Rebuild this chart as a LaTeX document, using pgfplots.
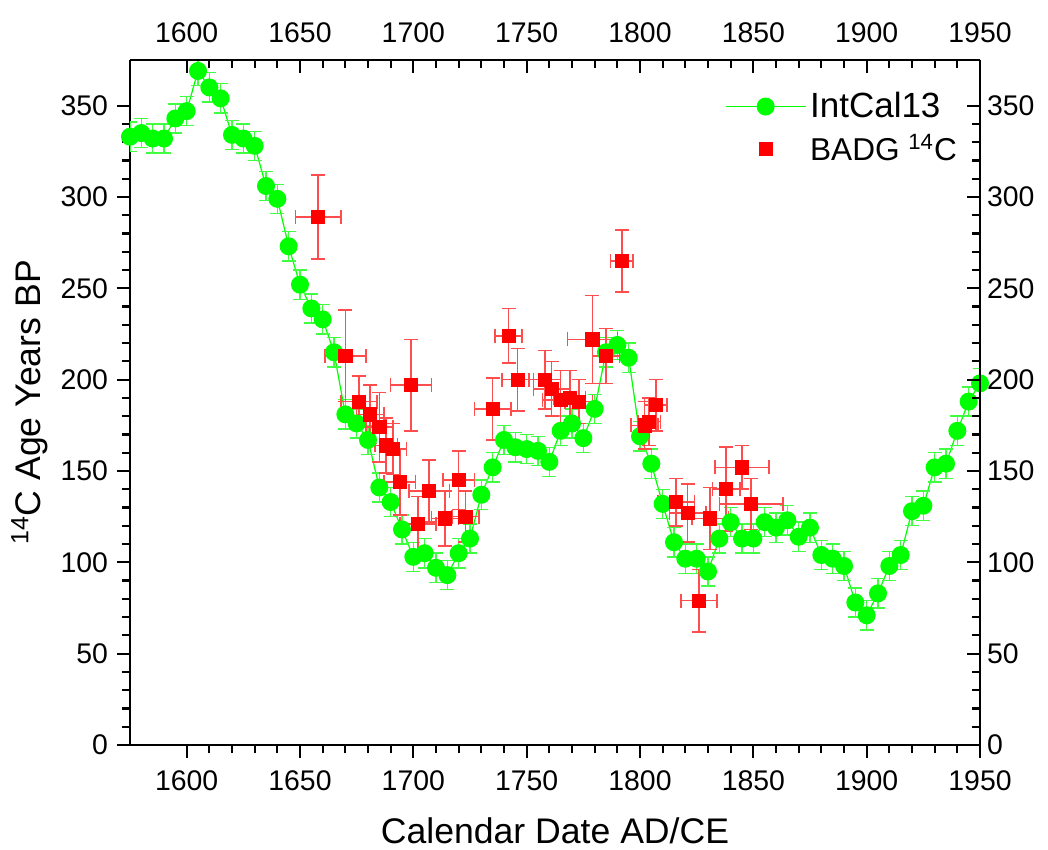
\documentclass[border=0pt]{standalone}
\usepackage{fontspec}
\setmainfont{Liberation Sans}
\usepackage{pgfplots}
\usepackage{pgfplotstable}
\pgfplotsset{compat=1.18}
\definecolor{igreen}{rgb}{0,1,0}
\definecolor{ired}{rgb}{1,0,0}
\definecolor{iredbar}{rgb}{1,0.3,0.3}
\definecolor{igreenbar}{rgb}{0.25,1,0.25}

\pgfplotstableread{
x y ey
1575 333 8
1580 335 8
1585 332 8
1590 332 8
1595 343 8
1600 347 8
1605 369 8
1610 360 8
1615 354 8
1620 334 8
1625 332 8
1630 328 8
1635 306 8
1640 299 8
1645 273 8
1650 252 8
1655 239 8
1660 233 8
1665 215 8
1670 181 8
1675 176 8
1680 167 8
1685 141 8
1690 133 8
1695 118 8
1700 103 8
1705 105 8
1710 97 8
1715 93 8
1720 105 8
1725 113 8
1730 137 8
1735 152 8
1740 167 8
1745 163 8
1750 162 8
1755 161 8
1760 155 8
1765 172 8
1770 176 8
1775 168 8
1780 184 8
1785 215 8
1790 219 8
1795 212 8
1800 169 8
1805 154 8
1810 132 8
1815 111 8
1820 102 8
1825 102 8
1830 95 8
1835 113 8
1840 122 8
1845 113 8
1850 113 8
1855 122 8
1860 119 8
1865 123 8
1870 114 8
1875 119 8
1880 104 8
1885 102 8
1890 98 8
1895 78 8
1900 71 8
1905 83 8
1910 98 8
1915 104 8
1920 128 8
1925 131 8
1930 152 8
1935 154 8
1940 172 8
1945 188 8
1950 198 8
}\intcal

\pgfplotstableread{
x y ex ey
1658 289 10 23
1670 213 9 25
1676 188 8 14
1681 181 6 16
1685 174 6 19
1688 164 5 15
1691 162 6 14
1694 144 7 18
1699 197 9 25
1702 121 8 15
1707 139 9 17
1714 124 6 15
1720 145 7 16
1723 125 6 14
1735 184 8 17
1742 224 6 15
1746 200 7 17
1758 200 7 16
1761 195 8 15
1765 189 8 16
1769 190 7 15
1773 188 6 12
1779 222 11 24
1785 213 6 15
1792 265 5 17
1802 175 6 13
1804 177 5 13
1807 186 5 14
1816 133 8 13
1821 127 8 16
1826 79 8 17
1831 124 8 17
1838 140 6 23
1845 152 12 12
1849 132 14 14
}\badg

\pgfplotsset{
  commonax/.style={
    scale only axis, width=425pt, height=342.5pt,
    xmin=1575, xmax=1950, ymin=0, ymax=375,
    axis line style={-, line width=1.1pt},
    every tick/.style={black, line width=1.1pt},
    major tick length=6.5pt, minor tick length=4pt,
    xtick={1600,1650,...,1950}, ytick={0,50,...,350},
    minor x tick num=4, minor y tick num=4,
    ticklabel style={font=\fontsize{14.2}{17}\selectfont},
    /pgf/number format/assume math mode=true,
    /pgf/number format/1000 sep={},
  }
}

\begin{document}
\begin{tikzpicture}
\path[use as bounding box] (-65pt,-52.5pt) rectangle (459pt,372.5pt);
\begin{axis}[
  commonax,
  axis x line*=bottom, axis y line*=left,
  tick align=outside,
  xticklabel shift=3pt,
  yticklabel shift=1pt,
  xlabel={Calendar Date AD/CE},
  ylabel={\textsuperscript{14}C Age Years BP},
  label style={font=\fontsize{17.8}{21}\selectfont},
  xlabel style={at={([yshift=-49pt]axis description cs:0.5,0)}, anchor=base},
  ylabel style={at={([xshift=-44.5pt]axis description cs:0,0.5)}, anchor=base, rotate=0},
  legend style={draw=none, fill=none, at={(0.985,0.965)}, anchor=north east,
    font=\fontsize{17.5}{21}\selectfont, row sep=3pt},
  legend cell align=left,
]
\addplot[color=igreen, line width=0.6pt, mark=*, mark size=4.2pt,
  mark options={fill=igreen, draw=igreen},
  error bars/.cd, y dir=both, y explicit,
  error bar style={igreenbar, line width=0.7pt},
  error mark options={igreenbar, mark size=3.5pt, line width=0.7pt, rotate=90},
  /pgfplots/legend image code/.code={\draw[mark repeat=2,mark phase=2] plot coordinates {(0cm,0cm) (0.7cm,0cm) (1.4cm,0cm)};}
] table[x=x, y=y, y error=ey] {\intcal};
\addlegendentry{IntCal13}
\addplot[only marks, color=ired, mark=square*, mark size=3.3pt,
  mark options={fill=ired, draw=ired},
  error bars/.cd, x dir=both, x explicit, y dir=both, y explicit,
  error bar style={iredbar, line width=0.8pt},
  error mark options={iredbar, mark size=3.5pt, line width=0.8pt, rotate=90},
  /pgfplots/legend image code/.code={\path[draw=none] (0cm,0cm) -- (1.4cm,0cm); \path[draw=none] plot[mark=square*, mark options={draw=ired, fill=ired}] coordinates {(0.7cm,0cm)};}
] table[x=x, y=y, x error=ex, y error=ey] {\badg};
\addlegendentry{\fontsize{15.8}{19}\selectfont BADG \textsuperscript{14}C}
\end{axis}
\begin{axis}[
  commonax,
  axis x line*=top, axis y line*=right,
  tick align=inside,
  xticklabel shift=5pt,
]
\end{axis}
\end{tikzpicture}
\end{document}
